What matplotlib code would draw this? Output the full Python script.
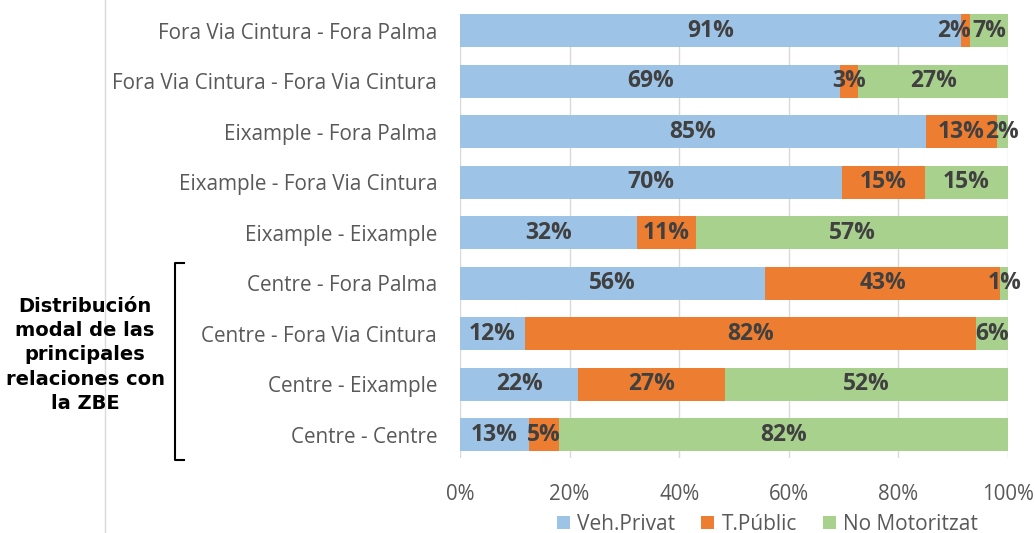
import matplotlib.pyplot as plt
import numpy as np
from matplotlib.lines import Line2D

# data (bottom -> top)
relations = ['Centre - Centre', 'Centre - Eixample', 'Centre - Fora Via Cintura',
             'Centre - Fora Palma', 'Eixample - Eixample', 'Eixample - Fora Via Cintura',
             'Eixample - Fora Palma', 'Fora Via Cintura - Fora Via Cintura',
             'Fora Via Cintura - Fora Palma']
veh_privat = [12.6, 21.6, 11.9, 55.7, 32.3, 69.7, 85.0, 69.4, 91.4]
t_public = [5.4, 26.8, 82.3, 42.9, 10.8, 15.1, 13.0, 3.3, 1.6]
no_motor = [82.0, 51.6, 5.8, 1.4, 56.9, 15.2, 2.0, 27.3, 7.0]
series_names = ['Veh.Privat', 'T.Públic', 'No Motoritzat']
colors = ['#9DC3E6', '#ED7D31', '#A9D18E']

plt.rcParams['font.family'] = ['Open Sans', 'DejaVu Sans']

fig = plt.figure(figsize=(10.35, 5.33), dpi=100)
ax = fig.add_axes([460 / 1035, 1 - 458 / 533, 548 / 1035, 444 / 533])

y = np.arange(len(relations))
left = np.zeros(len(relations))
for vals, name, c in zip([veh_privat, t_public, no_motor], series_names, colors):
    vals = np.array(vals)
    ax.barh(y, vals / 100, left=left / 100, height=0.66, color=c, label=name, zorder=2)
    for i, v in enumerate(vals):
        ha, xpos = 'center', (left[i] + v / 2) / 100
        if v < 2.5 and name != series_names[-1]:
            ha, xpos = 'right', (left[i] + v) / 100 + 0.003
        ax.text(xpos, y[i], f'{round(v):.0f}%', ha=ha, va='center',
                fontsize=16.5, fontweight='bold', color='#404040', zorder=3)
    left += vals

ax.set_xlim(0, 1)
ax.set_ylim(-0.46, 8.33)
ax.set_yticks(y)
ax.set_yticklabels(relations, fontsize=14.9, color='#595959')
ticks = np.arange(0, 1.01, 0.2)
ax.set_xticks(ticks)
ax.set_xticklabels([f'{int(round(t * 100))}%' for t in ticks], fontsize=14.8, color='#595959')
ax.grid(axis='x', color='#D9D9D9', lw=1, zorder=0)
ax.tick_params(axis='y', length=0, pad=16.5)
ax.tick_params(axis='x', length=0, pad=19)
for s in ax.spines.values():
    s.set_visible(False)

ax.legend(loc='center', bbox_to_anchor=(0.561, -0.149), ncol=3, frameon=False,
          fontsize=15, handlelength=0.62, handleheight=0.62, handletextpad=0.35,
          columnspacing=1.25, labelcolor='#595959', borderpad=0)

# left side: divider, bracket and note
fig.add_artist(Line2D([105 / 1035] * 2, [0, 1], color='#D9D9D9', lw=1))
bx0, bx1 = 175 / 1035, 184 / 1035
by0, by1 = 1 - 460 / 533, 1 - 263 / 533
fig.add_artist(Line2D([bx1, bx0, bx0, bx1], [by1, by1, by0, by0], color='black', lw=1.5))
fig.text(85 / 1035, 1 - 355 / 533, 'Distribución\nmodal de las\nprincipales\nrelaciones con\nla ZBE',
         ha='center', va='center', fontsize=14, fontweight='bold', linespacing=1.36,
         family=['DejaVu Sans'])

fig.savefig('out.png', dpi=100)
